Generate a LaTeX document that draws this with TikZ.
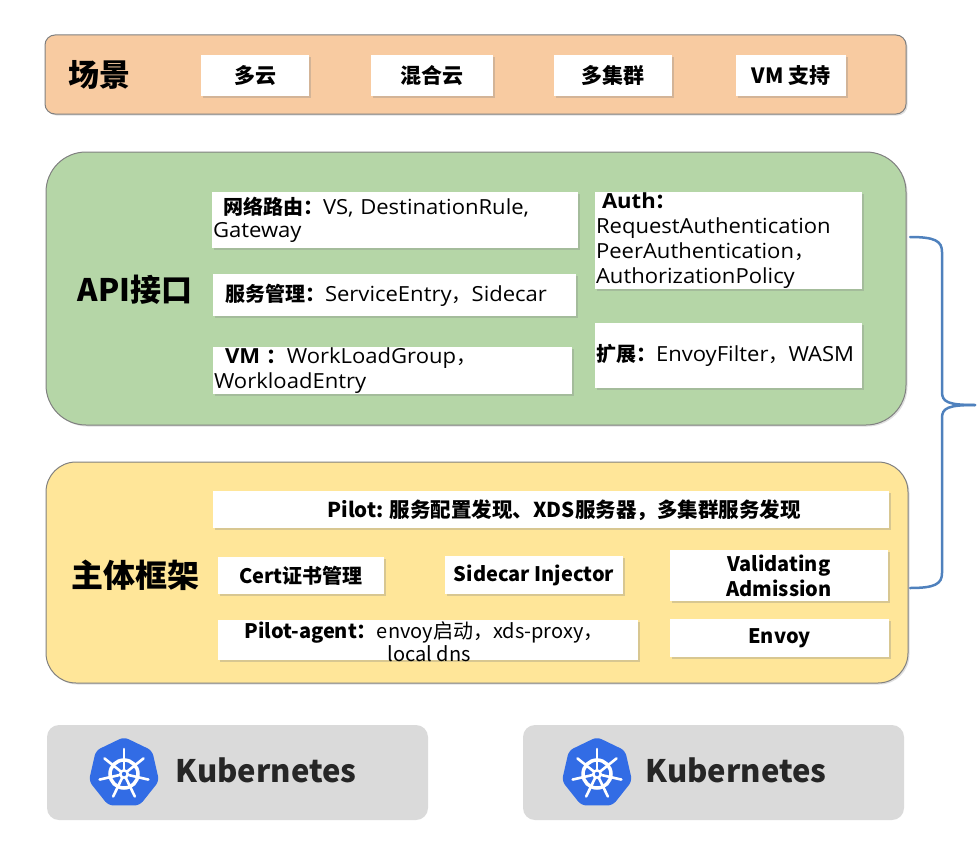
\documentclass[tikz,border=0pt]{standalone}
\usepackage{fontspec}
\setmainfont{Noto Sans CJK SC}
\newfontfamily\os{Open Sans}[Scale=1.04, FakeStretch=1.06]
\usetikzlibrary{shadows}
\definecolor{peach}{RGB}{248,203,161}
\definecolor{apigreen}{RGB}{181,214,167}
\definecolor{mainyellow}{RGB}{255,230,153}
\definecolor{kgray}{RGB}{218,218,218}
\definecolor{kblue}{RGB}{50,108,229}
\definecolor{brace}{RGB}{79,129,189}
\definecolor{frame}{RGB}{128,128,128}
\begin{document}
\begin{tikzpicture}[x=1pt,y=-1pt,
  bigbox/.style={draw=frame, line width=1pt, drop shadow={shadow xshift=1.5pt, shadow yshift=-1.5pt, opacity=0.25}},
  wbox/.style={fill=white, draw=none, inner sep=1pt, drop shadow={shadow xshift=1.5pt, shadow yshift=-2pt, opacity=0.3}},
  kbox/.style={fill=kgray, draw=none, rounded corners=12pt},
  title/.style={font=\bfseries\fontsize{31}{35}\selectfont},
  small/.style={font=\bfseries\fontsize{21}{24}\selectfont},
  mtext/.style={font=\fontsize{20}{23}\selectfont},
  ftext/.style={font=\bfseries\fontsize{20}{24}\selectfont},
]
\useasboundingbox (0,0) rectangle (979,843);

% ---------- scene band ----------
\node[bigbox, fill=peach, rounded corners=10pt, minimum width=861pt, minimum height=79pt] (scene) at (475.5,74.5) {};
\node[title] (scenelbl) at (99,75) {场景};
\node[wbox, small, minimum width=108pt, minimum height=41pt] (s1) at (255,75.5) {多云};
\node[wbox, small, minimum width=122pt, minimum height=41pt] (s2) at (432,75.5) {混合云};
\node[wbox, small, minimum width=118pt, minimum height=41pt] (s3) at (613,75.5) {多集群};
\node[wbox, small, minimum width=110pt, minimum height=41pt] (s4) at (791,75.5) {VM 支持};

% ---------- API box ----------
\node[bigbox, fill=apigreen, rounded corners=40pt, minimum width=860pt, minimum height=273pt] (api) at (476,288.5) {};
\node[title] (apilbl) at (135,290) {API接口};
\node[wbox, mtext, minimum width=366pt, minimum height=56pt, text width=364pt, align=left] (a1) at (395,220)
  {\hspace*{10pt}\textbf{网络路由：}{\os VS, DestinationRule,}\\{\os Gateway}};
\node[wbox, mtext, minimum width=363pt, minimum height=42pt, text width=361pt, align=left] (a2) at (394.5,295)
  {\hspace*{11pt}\textbf{服务管理：}{\os ServiceEntry}，{\os Sidecar}};
\node[wbox, mtext, minimum width=359pt, minimum height=43pt, text width=357pt, align=left, font=\fontsize{20}{25}\selectfont] (a3) at (392.5,370.5)
  {\hspace*{11pt}\textbf{\os VM }\textbf{：}{\os WorkLoadGroup}，\\{\os WorkloadEntry}};
\node[wbox, font=\fontsize{20}{25}\selectfont, minimum width=267pt, minimum height=95pt, text width=265pt, align=left] (a4) at (728.5,240.5)
  {\hspace*{6pt}\textbf{\os Auth}\textbf{：}\\{\os RequestAuthentication}\\{\os PeerAuthentication}，\\{\os AuthorizationPolicy}};
\node[wbox, font=\fontsize{20}{24}\selectfont, minimum width=267pt, minimum height=65pt, text width=265pt, align=left] (a5) at (728.5,355.5)
  {\textbf{扩展：}{\os EnvoyFilter}，{\os WASM}};

% ---------- main frame ----------
\node[bigbox, fill=mainyellow, rounded corners=30pt, minimum width=862pt, minimum height=221pt] (main) at (477,572.5) {};
\node[font=\bfseries\fontsize{32}{36}\selectfont] (mainlbl) at (135,575) {主体框架};
\node[wbox, minimum width=676pt, minimum height=37pt] (m1) at (551,509.5) {};
\node[font=\bfseries\fontsize{20.5}{24}\selectfont] (m1t) at (564,510) {Pilot: 服务配置发现、XDS服务器，多集群服务发现};
\node[wbox, ftext, minimum width=166pt, minimum height=37pt] (m2) at (301,575.5) {Cert证书管理};
\node[wbox, ftext, minimum width=178pt, minimum height=38pt] (m3) at (534,575) {Sidecar Injector};
\node[wbox, ftext, minimum width=218pt, minimum height=51pt, align=center, font=\bfseries\fontsize{20}{25}\selectfont] (m4) at (779,575.5) {Validating\\Admission};
\node[wbox, minimum width=420pt, minimum height=40pt] (m5) at (428,640) {};
\node[font=\fontsize{20}{23}\selectfont, align=center] (m5t) at (424,641.5) {\textbf{Pilot-agent：}envoy启动，xds-proxy，\\\hspace*{10pt}local dns};
\node[wbox, ftext, minimum width=219pt, minimum height=38pt] (m6) at (779.5,638) {Envoy};

% ---------- brace ----------
\coordinate (bt) at (910,237);
\coordinate (bb) at (910,588);
\coordinate (tip) at (975,405);
\draw[brace, line width=2.5pt, line cap=round, line join=round]
  (bt) .. controls (935,237) and (942,241) .. (942,252) -- (942,392)
  .. controls (942,402) and (948,405) .. (tip);
\draw[brace, line width=2.5pt, line cap=round, line join=round]
  (tip) .. controls (948,405) and (942,408) .. (942,418) -- (942,573)
  .. controls (942,584) and (935,588) .. (bb);

% ---------- kubernetes ----------
\node[kbox, minimum width=381pt, minimum height=95pt] (k1) at (237.5,772.5) {};
\node[kbox, minimum width=381pt, minimum height=95pt] (k2) at (713.5,772.5) {};
\foreach \cx in {124, 597} {
  \begin{scope}[shift={(\cx,773)}]
    \fill[kblue, rounded corners=5pt] (-90:36) -- (-90+51.43:36) -- (-90+102.86:36) -- (-90+154.29:36)
      -- (-90+205.71:36) -- (-90+257.14:36) -- (-90+308.57:36) -- cycle;
    \draw[white, line width=3.5pt] (0,1) circle (14);
    \foreach \a in {0,...,6} {
      \draw[white, line width=2.6pt, line cap=round] (0,1) -- ++(-90+\a*51.43:25);
    }
    \fill[white] (0,1) circle (5);
    \fill[kblue] (0,1) circle (2.2);
  \end{scope}
}
\node[font=\bfseries\fontsize{31}{35}\selectfont, text=black!85, anchor=west] (k1t) at (172,770) {Kubernetes};
\node[font=\bfseries\fontsize{31}{35}\selectfont, text=black!85, anchor=west] (k2t) at (642,770) {Kubernetes};
\end{tikzpicture}
\end{document}
